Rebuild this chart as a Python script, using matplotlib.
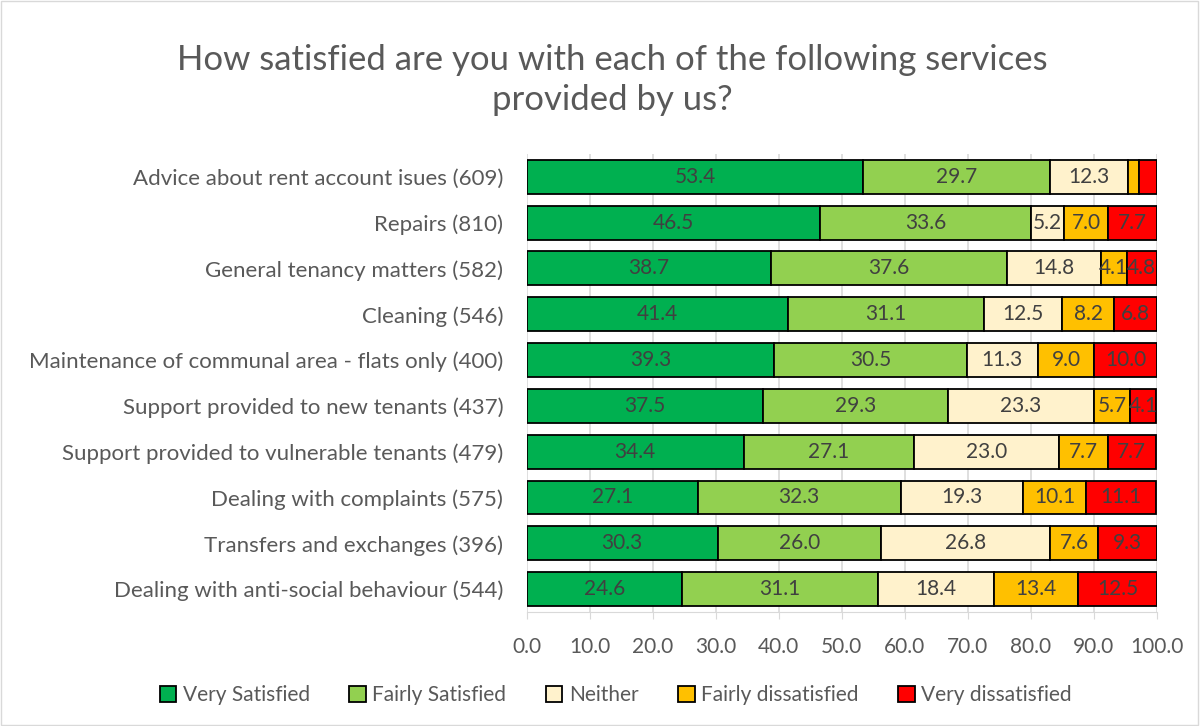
import numpy as np
import matplotlib
matplotlib.use("Agg")
import matplotlib.pyplot as plt
from matplotlib.patches import Rectangle

plt.rcParams["font.family"] = ["Lato", "DejaVu Sans"]

TITLE = "How satisfied are you with each of the following services\nprovided by us?"

categories = [
    "Advice about rent account isues (609)",
    "Repairs (810)",
    "General tenancy matters (582)",
    "Cleaning (546)",
    "Maintenance of communal area - flats only (400)",
    "Support provided to new tenants (437)",
    "Support provided to vulnerable tenants (479)",
    "Dealing with complaints (575)",
    "Transfers and exchanges (396)",
    "Dealing with anti-social behaviour (544)",
]

series_names = ["Very Satisfied", "Fairly Satisfied", "Neither",
                "Fairly dissatisfied", "Very dissatisfied"]

very_satisfied = [53.4, 46.5, 38.7, 41.4, 39.3, 37.5, 34.4, 27.1, 30.3, 24.6]
fairly_satisfied = [29.7, 33.6, 37.6, 31.1, 30.5, 29.3, 27.1, 32.3, 26.0, 31.1]
neither = [12.3, 5.2, 14.8, 12.5, 11.3, 23.3, 23.0, 19.3, 26.8, 18.4]
fairly_dissatisfied = [1.7, 7.0, 4.1, 8.2, 9.0, 5.7, 7.7, 10.1, 7.6, 13.4]
very_dissatisfied = [2.9, 7.7, 4.8, 6.8, 10.0, 4.1, 7.7, 11.1, 9.3, 12.5]

colors = ["#00B050", "#92D050", "#FFF2CC", "#FFC000", "#FF0000"]
TEXT = "#595959"
LABEL = "#404040"


def main():
    fig = plt.figure(figsize=(12, 7.26), dpi=100)
    fig.patches.append(Rectangle((0.001, 0.001), 0.997, 0.997, transform=fig.transFigure,
                                 fill=False, edgecolor="#D9D9D9", linewidth=1))
    ax = fig.add_axes([0.439, 0.157, 0.525, 0.631])

    data = [very_satisfied, fairly_satisfied, neither, fairly_dissatisfied, very_dissatisfied]
    y = np.arange(len(categories))
    left = np.zeros(len(categories))
    for name, vals, col in zip(series_names, data, colors):
        vals = np.array(vals)
        bars = ax.barh(y, vals, left=left, height=0.74, color=col, edgecolor="black",
                       linewidth=1.3, label=name, zorder=3)
        for b, v in zip(bars, vals):
            # tiny segments carry no label in the original
            if v < 3:
                continue
            ax.text(b.get_x() + b.get_width() / 2, b.get_y() + b.get_height() / 2,
                    f"{v:.1f}", ha="center", va="center", fontsize=15, color=LABEL, zorder=4)
        left += vals

    ax.set_ylim(len(categories) - 0.5, -0.5)
    ax.set_xlim(0, 100)
    ax.set_yticks(y)
    ax.set_yticklabels(categories, fontsize=16, color=TEXT)
    ax.set_xticks(np.arange(0, 101, 10))
    ax.set_xticklabels([f"{v:.1f}" for v in np.arange(0, 101, 10)], fontsize=15, color=TEXT)
    ax.tick_params(axis="y", length=0, pad=17)
    ax.tick_params(axis="x", length=5, color="#D9D9D9", pad=13)
    ax.grid(axis="x", color="#D9D9D9", linewidth=1.2, zorder=0)
    for s in ["top", "right", "left"]:
        ax.spines[s].set_visible(False)
    ax.spines["bottom"].set_color("#D9D9D9")

    fig.text(0.51, 0.89, TITLE, ha="center", va="center", fontsize=25, color=TEXT,
             linespacing=1.3)

    leg = fig.legend(loc="center", bbox_to_anchor=(0.513, 0.043), ncol=5, frameon=False,
                     fontsize=15, handlelength=0.8, handleheight=0.8, columnspacing=1.9,
                     handletextpad=0.3)
    for t in leg.get_texts():
        t.set_color(TEXT)

    fig.savefig("out.png", dpi=100)
    plt.close(fig)


if __name__ == "__main__":
    main()
